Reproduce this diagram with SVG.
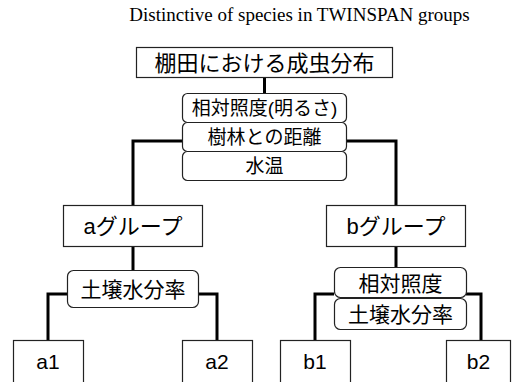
<svg xmlns="http://www.w3.org/2000/svg" width="512" height="382" viewBox="0 0 512 382">
<style>
.box{fill:#fff;stroke:#222;stroke-width:1.2}
.rbox{fill:#fff;stroke:#222;stroke-width:1.2}
.t{font-family:"Liberation Sans","Noto Sans CJK JP",sans-serif;fill:#000;text-anchor:middle;dominant-baseline:central}
.conn{fill:none;stroke:#000;stroke-width:3}
.title{font-family:"Liberation Serif",serif;font-size:19px;fill:#000;text-anchor:middle}
</style>
<rect width="512" height="382" fill="#fff"/>
<text class="title" x="299.5" y="21">Distinctive of species in TWINSPAN groups</text>
<g id="connectors">
<path class="conn" d="M264.5 78V93"/>
<path class="conn" d="M182 141H133V205"/>
<path class="conn" d="M347 141H396V205"/>
<path class="conn" d="M133 247V270"/>
<path class="conn" d="M67 294H48V340"/>
<path class="conn" d="M199 294H217V340"/>
<path class="conn" d="M396 247V267"/>
<path class="conn" d="M334 294H315V340"/>
<path class="conn" d="M466 294H481V340"/>
</g>
<g id="root">
<rect class="box" x="136.5" y="47.5" width="256" height="30"/>
<text class="t" x="264.5" y="63" font-size="22">棚田における成虫分布</text>
</g>
<g id="split1">
<rect class="rbox" x="182.5" y="93.5" width="164" height="29" rx="5"/>
<text class="t" x="264.5" y="108.5" font-size="19">相対照度(明るさ)</text>
<rect class="rbox" x="182.5" y="122.5" width="164" height="29" rx="5"/>
<text class="t" x="264.5" y="137.5" font-size="19">樹林との距離</text>
<rect class="rbox" x="182.5" y="151.5" width="164" height="29" rx="5"/>
<text class="t" x="264.5" y="166.5" font-size="19">水温</text>
</g>
<g id="groupA">
<rect class="box" x="63.5" y="205.5" width="139" height="41"/>
<text class="t" x="133" y="226.5" font-size="22">aグループ</text>
</g>
<g id="groupB">
<rect class="box" x="326.5" y="205.5" width="139" height="41"/>
<text class="t" x="396" y="226.5" font-size="22">bグループ</text>
</g>
<g id="splitA">
<rect class="rbox" x="67.5" y="270.5" width="131" height="37" rx="6"/>
<text class="t" x="133" y="289.5" font-size="21">土壌水分率</text>
</g>
<g id="splitB">
<rect class="rbox" x="334.5" y="267.5" width="132" height="30" rx="6"/>
<text class="t" x="400.5" y="283" font-size="21">相対照度</text>
<rect class="rbox" x="334.5" y="298.5" width="132" height="31" rx="6"/>
<text class="t" x="400.5" y="314.5" font-size="21">土壌水分率</text>
</g>
<g id="a1">
<rect class="box" x="13.5" y="340.5" width="70" height="50"/>
<text class="t" x="48" y="361.5" font-size="21">a1</text>
</g>
<g id="a2">
<rect class="box" x="182.5" y="340.5" width="70" height="50"/>
<text class="t" x="217" y="361.5" font-size="21">a2</text>
</g>
<g id="b1">
<rect class="box" x="280.5" y="340.5" width="70" height="50"/>
<text class="t" x="315" y="361.5" font-size="21">b1</text>
</g>
<g id="b2">
<rect class="box" x="446.5" y="340.5" width="64" height="50"/>
<text class="t" x="478.5" y="361.5" font-size="21">b2</text>
</g>
</svg>
